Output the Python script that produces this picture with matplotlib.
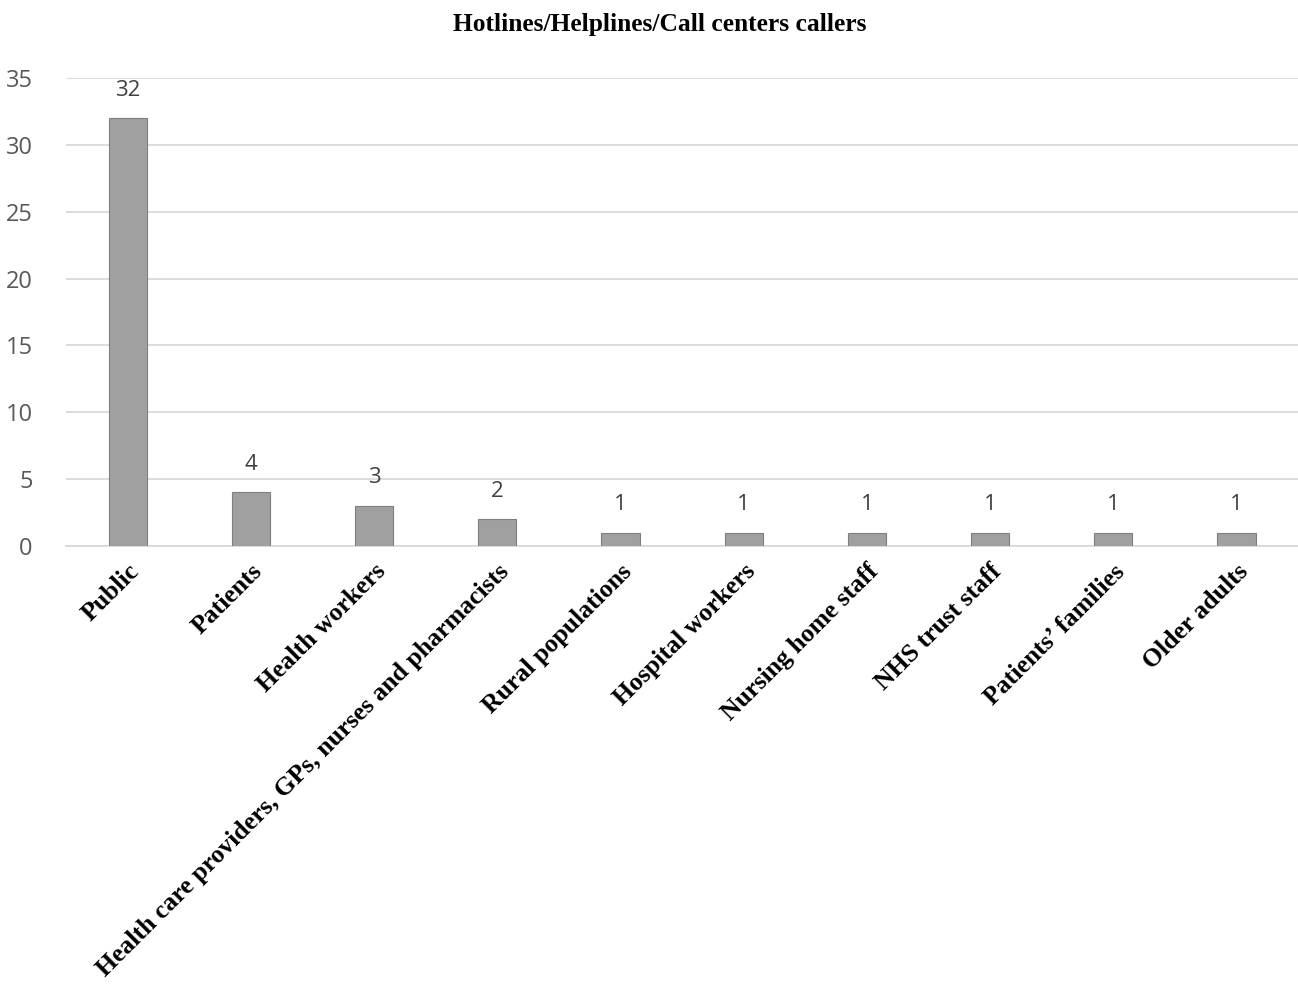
import matplotlib
matplotlib.use("Agg")
import matplotlib.pyplot as plt

categories = ["Public", "Patients", "Health workers",
              "Health care providers, GPs, nurses and pharmacists",
              "Rural populations", "Hospital workers", "Nursing home staff",
              "NHS trust staff", "Patients\u2019 families", "Older adults"]
counts = [32, 4, 3, 2, 1, 1, 1, 1, 1, 1]
yticks = [0, 5, 10, 15, 20, 25, 30, 35]

fig = plt.figure(figsize=(12.98, 9.88), dpi=100)
ax = fig.add_axes([0.051, 0.4474, 0.949, 0.4737])

x = range(len(categories))
bars = ax.bar(x, counts, width=0.31, color="#A0A0A0", edgecolor="#7F7F7F", linewidth=0.8, zorder=3)
for xi, v in zip(x, counts):
    ax.text(xi, v + 1.3, str(v), ha="center", va="bottom", fontsize=16,
            family="Open Sans", color="#404040")

ax.set_xlim(-0.5, len(categories) - 0.5)
ax.set_ylim(0, 35)
ax.set_yticks(yticks)
ax.set_yticklabels([str(t) for t in yticks], fontsize=17, family="Open Sans", color="#595959")
ax.yaxis.grid(True, color="#D9D9D9", linewidth=1.3, zorder=0)
ax.tick_params(axis="y", length=0, pad=24)
ax.tick_params(axis="x", length=0, pad=10)
for s in ["top", "right", "left"]:
    ax.spines[s].set_visible(False)
ax.spines["bottom"].set_color("#D9D9D9")
ax.spines["bottom"].set_linewidth(1.3)

ax.set_xticks(list(x))
ax.set_xticklabels(categories, rotation=45, ha="right", va="top", rotation_mode="anchor",
                   fontsize=18.5, family="Liberation Serif", fontweight="bold")

fig.text(0.5085, 0.975, "Hotlines/Helplines/Call centers callers", ha="center", va="center",
         fontsize=18.4, family="Liberation Serif", fontweight="bold")

fig.savefig("out.png", dpi=100)
